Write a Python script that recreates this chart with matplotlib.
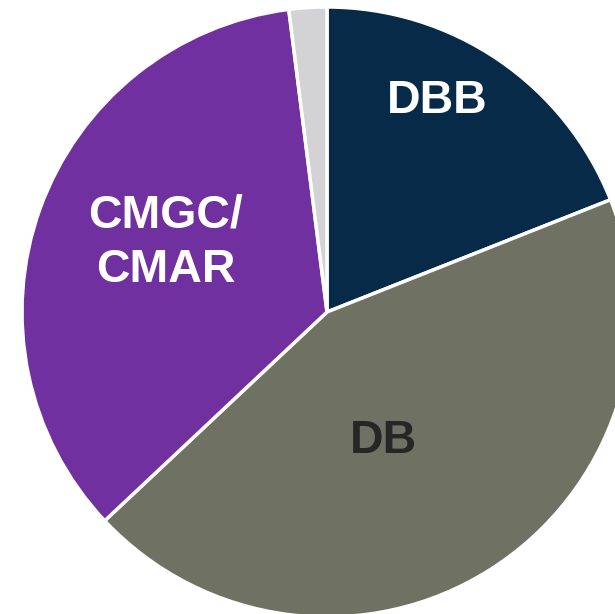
import matplotlib
matplotlib.use("Agg")
import matplotlib.pyplot as plt

categories = ["DBB", "DB", "CMGC/\nCMAR", "Other"]
shares = [19, 44, 35, 2]
colors = ["#062a47", "#6f7263", "#7030a0", "#d3d3d6"]
label_colors = ["white", "#262626", "white", None]

W, H = 615, 614
cx, cy, R = 327, 312, 305

fig = plt.figure(figsize=(W / 100, H / 100), dpi=100)
ax = fig.add_axes([0, 0, 1, 1])
ax.pie(shares, colors=colors, startangle=90, counterclock=False,
       wedgeprops=dict(edgecolor="white", linewidth=2.5))
ax.set_xlim(-cx / R, (W - cx) / R)
ax.set_ylim(-(H - cy) / R, cy / R)
ax.set_aspect("equal")
ax.axis("off")

label_pos = [(437, 101), (383, 441), (166, 243)]
for name, col, (px, py) in zip(categories, label_colors, label_pos):
    if col is None:
        continue
    ax.text((px - cx) / R, (cy - py) / R, name, color=col, ha="center", va="center",
            fontsize=33.5, fontweight="bold", family="Liberation Sans", linespacing=1.32)

fig.savefig("out.png", dpi=100)
